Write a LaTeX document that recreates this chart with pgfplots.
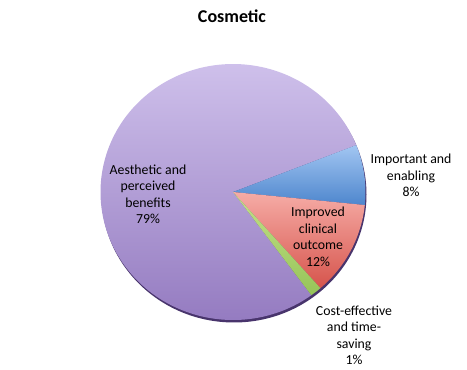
\documentclass[border=0pt]{standalone}
\usepackage{pgfplots}
\pgfplotsset{compat=1.18}
\usepackage{pgfplotstable}
\usepackage{fontspec}
\setmainfont{Carlito}
\definecolor{purT}{RGB}{208,194,236}
\definecolor{purB}{RGB}{145,119,190}
\definecolor{bluT}{RGB}{162,198,242}
\definecolor{bluB}{RGB}{78,134,205}
\definecolor{redT}{RGB}{246,172,166}
\definecolor{redB}{RGB}{214,84,76}
\definecolor{grnT}{RGB}{196,224,138}
\definecolor{grnB}{RGB}{150,196,88}
\definecolor{shad}{RGB}{72,52,108}

\pgfplotstableread{
name value
Important 7.6
Improved 11.9
Cost 1.4
Aesthetic 79.1
}\piedata

\begin{document}
\begin{tikzpicture}
\pgfplotstablegetelem{0}{value}\of\piedata \let\vA\pgfplotsretval
\pgfplotstablegetelem{1}{value}\of\piedata \let\vB\pgfplotsretval
\pgfplotstablegetelem{2}{value}\of\piedata \let\vC\pgfplotsretval
\pgfplotstablegetelem{3}{value}\of\piedata \let\vD\pgfplotsretval
\pgfmathsetmacro\aA{21.5}
\pgfmathsetmacro\aB{\aA-3.6*\vA}
\pgfmathsetmacro\aC{\aB-3.6*\vB}
\pgfmathsetmacro\aD{\aC-3.6*\vC}
\pgfmathsetmacro\aE{\aD-3.6*\vD}
\begin{axis}[
  scale only axis, width=467pt, height=370pt,
  xmin=0, xmax=467, ymin=0, ymax=370,
  hide axis, clip=false,
]
% shadow
\fill[shad] (axis cs:234,175.5) ellipse [x radius=132.5pt, y radius=128pt];
\shade[top color=purT, bottom color=purB] (axis cs:233,178) -- ++(\aD:132.5pt and 128pt) arc[start angle=\aD, end angle=\aE, x radius=132.5pt, y radius=128pt] -- cycle;
\shade[top color=bluT, bottom color=bluB] (axis cs:233,178) -- ++(\aA:132.5pt and 128pt) arc[start angle=\aA, end angle=\aB, x radius=132.5pt, y radius=128pt] -- cycle;
\shade[top color=redT, bottom color=redB] (axis cs:233,178) -- ++(\aB:132.5pt and 128pt) arc[start angle=\aB, end angle=\aC, x radius=132.5pt, y radius=128pt] -- cycle;
\shade[top color=grnT, bottom color=grnB] (axis cs:233,178) -- ++(\aC:132.5pt and 128pt) arc[start angle=\aC, end angle=\aD, x radius=132.5pt, y radius=128pt] -- cycle;
% labels
\begin{scope}[every node/.style={align=center, font=\fontsize{13.8}{16.5}\selectfont, inner sep=0pt}]
\node at (axis cs:148,175.5) {Aesthetic and\\perceived\\benefits\\79\%};
\node at (axis cs:411,194.5) {Important and\\enabling\\8\%};
\node at (axis cs:318,133) {Improved\\clinical\\outcome\\12\%};
\node at (axis cs:354,34.5) {Cost-effective\\and time-\\saving\\1\%};
\end{scope}
\node[font=\fontsize{18}{20}\selectfont\bfseries, inner sep=0pt] at (axis cs:232,354) {Cosmetic};
\end{axis}
\pgfresetboundingbox
\path (0,0) rectangle (467pt,370pt);
\end{tikzpicture}
\end{document}
